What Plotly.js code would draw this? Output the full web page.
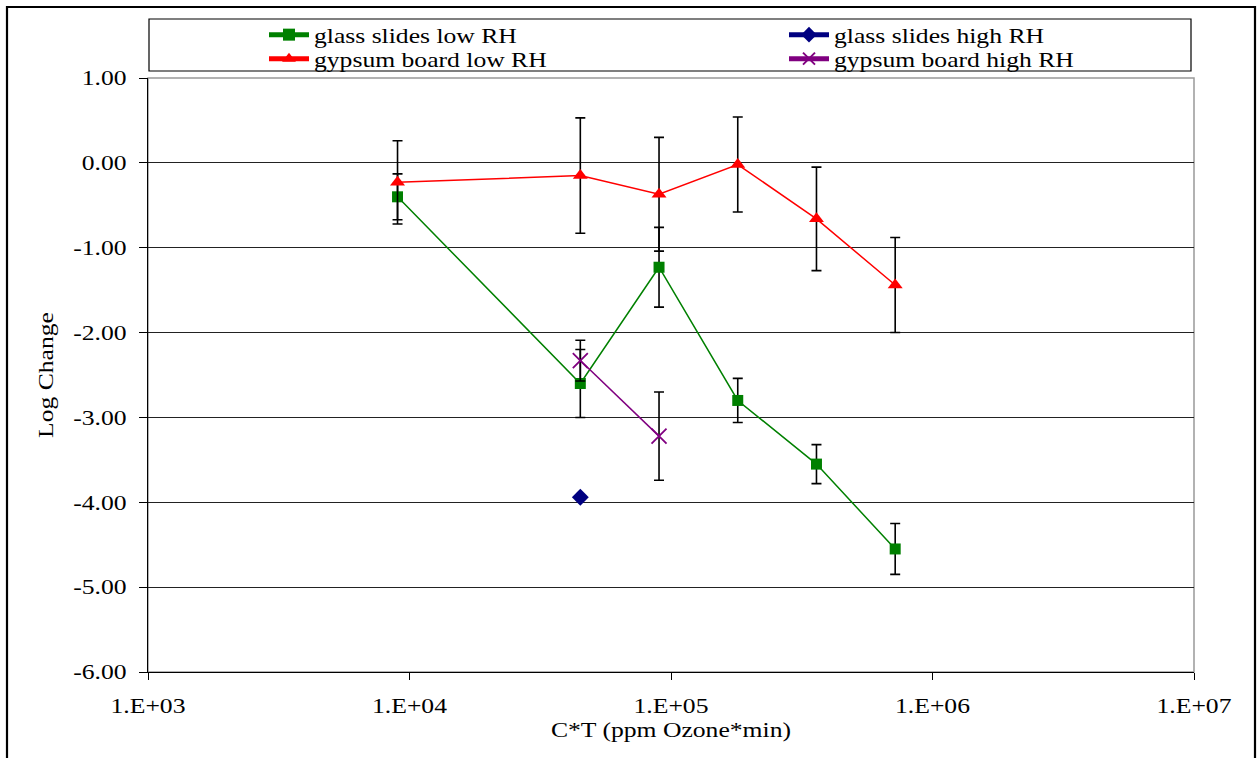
<!DOCTYPE html>
<html>
<head>
<meta charset="utf-8">
<script src="https://cdn.plot.ly/plotly-3.0.1.min.js"></script>
<style>
html,body{margin:0;padding:0;background:#fff;}
#chart{width:1258px;height:758px;}
</style>
</head>
<body>
<div id="chart"></div>
<script>
// C*T values (ppm Ozone*min)
var ct = [9000, 45000, 90000, 180000, 360000, 720000];
var glassLow = [-0.40, -2.60, -1.23, -2.80, -3.55, -4.55];
var glassLowErr = [0.27, 0.40, 0.47, 0.26, 0.23, 0.30];
var glassHighX = [45000];
var glassHigh = [-3.94];
var gypsumLow = [-0.23, -0.15, -0.37, -0.02, -0.66, -1.44];
var gypsumLowErr = [0.49, 0.68, 0.67, 0.56, 0.61, 0.56];
var gypsumHighX = [45000, 90000];
var gypsumHigh = [-2.33, -3.22];
var gypsumHighErr = [0.24, 0.52];

var xTickVals = [1e3, 1e4, 1e5, 1e6, 1e7];
var xTickText = ['1.E+03', '1.E+04', '1.E+05', '1.E+06', '1.E+07'];
var yTickVals = [1, 0, -1, -2, -3, -4, -5, -6];
var yTickText = ['1.00', '0.00', '-1.00', '-2.00', '-3.00', '-4.00', '-5.00', '-6.00'];

var FONT = 'Liberation Serif';
var FS = 21;
var STRETCH = 1.22;
var errStyle = function (arr) {
  return {type: 'data', array: arr, visible: true, color: '#000', thickness: 1.6, width: 5};
};

var traces = [
  {
    name: 'glass slides low RH', legend: 'legend', x: ct, y: glassLow, mode: 'lines+markers',
    line: {color: '#008000', width: 1.5},
    marker: {symbol: 'square', size: 11, color: '#008000'},
    error_y: errStyle(glassLowErr)
  },
  {
    name: 'glass slides high RH', legend: 'legend2', x: glassHighX, y: glassHigh, mode: 'lines+markers',
    line: {color: '#000080', width: 1.5},
    marker: {symbol: 'diamond', size: 13, color: '#000080'}
  },
  {
    name: 'gypsum board low RH', legend: 'legend3', x: ct, y: gypsumLow, mode: 'lines+markers',
    line: {color: '#FF0000', width: 1.5},
    marker: {symbol: 'triangle-up', size: 13, color: '#FF0000'},
    error_y: errStyle(gypsumLowErr)
  },
  {
    name: 'gypsum board high RH', legend: 'legend4', x: gypsumHighX, y: gypsumHigh, mode: 'lines+markers',
    line: {color: '#800080', width: 1.5},
    marker: {symbol: 'x-thin', size: 15, color: '#800080', line: {color: '#800080', width: 1.8}},
    error_y: errStyle(gypsumHighErr)
  }
];

var W = 1046, H = 594, L = 148, T = 78;
function px(x) { return (x - L) / W; }
function py(y) { return 1 - (y - T) / H; }

function leg(xPix, yCenterPix) {
  return {
    orientation: 'v', x: px(xPix), xanchor: 'left', y: py(yCenterPix), yanchor: 'middle',
    font: {family: FONT, size: FS, color: '#000'},
    bgcolor: 'rgba(0,0,0,0)', borderwidth: 0, itemsizing: 'constant', itemwidth: 40
  };
}

var layout = {
  width: 1258, height: 758,
  margin: {l: L, r: 1258 - L - W, t: T, b: 758 - T - H},
  paper_bgcolor: '#fff', plot_bgcolor: '#fff',
  font: {family: FONT, size: FS, color: '#000'},
  showlegend: true,
  legend: leg(264, 35),
  legend2: leg(784, 35),
  legend3: leg(264, 59),
  legend4: leg(784, 59),
  xaxis: {
    type: 'log', range: [3, 7], tickvals: xTickVals, ticktext: xTickText,
    showgrid: false, zeroline: false, showline: true, linecolor: '#000', linewidth: 1.2,
    ticks: 'outside', ticklen: 7, tickcolor: '#000', tickwidth: 1, ticklabelstandoff: 8,
    tickfont: {family: FONT, size: FS, color: '#000'},
    title: {text: 'C*T (ppm Ozone*min)', font: {family: FONT, size: FS, color: '#000'}, standoff: 2}
  },
  yaxis: {
    range: [-6, 1], tickvals: yTickVals, ticktext: yTickText,
    showgrid: true, gridcolor: '#222', gridwidth: 1,
    zeroline: false, showline: true, linecolor: '#000', linewidth: 1.2,
    ticks: 'outside', ticklen: 8, tickcolor: '#000', tickwidth: 1, ticklabelstandoff: 8,
    tickfont: {family: FONT, size: FS, color: '#000'},
    title: {text: 'Log Change', font: {family: FONT, size: FS, color: '#000'}, standoff: 23}
  },
  shapes: [
    {type: 'rect', xref: 'paper', yref: 'paper', x0: 0, x1: 1, y0: 0, y1: 1,
     line: {color: '#999', width: 1.5}, layer: 'below'},
    {type: 'rect', xref: 'paper', yref: 'paper', x0: px(149), x1: px(1191), y0: py(71), y1: py(19),
     line: {color: '#000', width: 1.2}},
    {type: 'rect', xref: 'paper', yref: 'paper', x0: px(7), x1: px(1255), y0: py(770), y1: py(7),
     line: {color: '#000', width: 2.2}}
  ]
};

Plotly.newPlot('chart', traces, layout, {displayModeBar: false, staticPlot: true}).then(function () {
  // the reference typeface is wider than Liberation Serif: widen glyphs along the text direction
  document.querySelectorAll('#chart svg text').forEach(function (t) {
    var w = t.getComputedTextLength();
    if (w > 0) {
      t.setAttribute('textLength', (w * STRETCH).toFixed(1));
      t.setAttribute('lengthAdjust', 'spacingAndGlyphs');
    }
  });
  // let the widened legend labels show in full
  document.querySelectorAll('#chart svg [class^="legend"] [clip-path], #chart svg [class^="legend"][clip-path]').forEach(function (e) {
    e.removeAttribute('clip-path');
  });
});
</script>
</body>
</html>
